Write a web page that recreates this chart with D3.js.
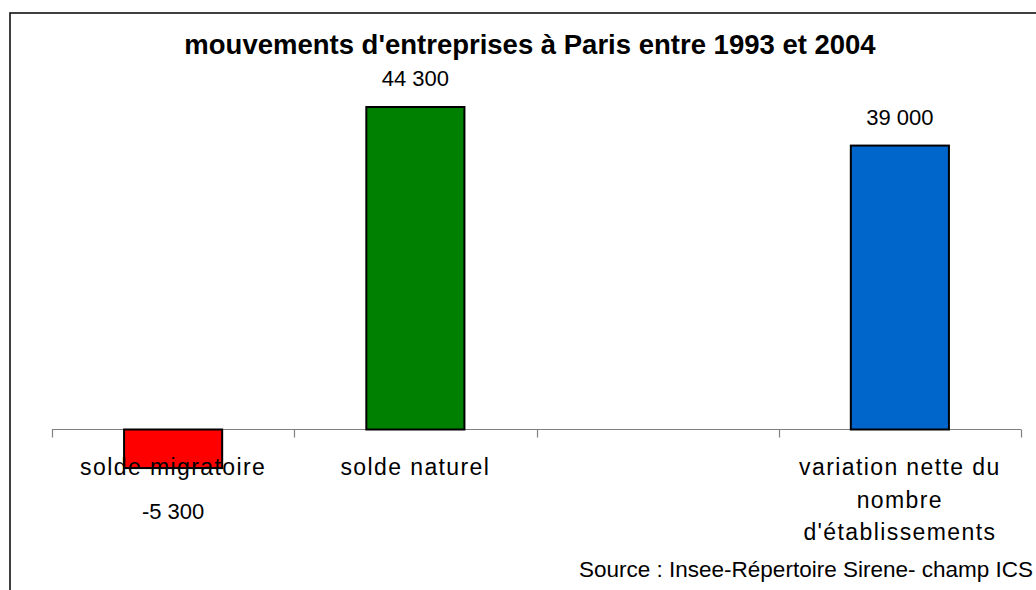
<!DOCTYPE html>
<html><head><meta charset="utf-8">
<script src="https://cdn.jsdelivr.net/npm/d3@7"></script>
<style>html,body{margin:0;padding:0;background:#fff;}svg{display:block;}</style>
</head><body>
<script>
const titleText = "mouvements d'entreprises à Paris entre 1993 et 2004";
const categories = ["solde migratoire", "solde naturel", "", "variation nette du nombre d'établissements"];
const categoryLines = [["solde migratoire"], ["solde naturel"], [], ["variation nette du", "nombre", "d'établissements"]];
const values = [-5300, 44300, null, 39000];
const valueLabels = ["-5 300", "44 300", "", "39 000"];
const barColors = ["#ff0000", "#008000", "none", "#0066cc"];
const sourceText = "Source : Insee-Répertoire Sirene- champ ICS";

const W = 1036, H = 590;
const svg = d3.select("body").append("svg").attr("width", W).attr("height", H);
const font = "'Liberation Sans', Arial, sans-serif";

// frame
svg.append("rect").attr("x", 10).attr("y", 13).attr("width", 1100).attr("height", 1000)
  .attr("fill", "#fff").attr("stroke", "#111").attr("stroke-width", 1.6);

const x = d3.scaleBand().domain(categories.map((c, i) => i)).range([52, 1021]).padding(0);
const y = d3.scaleLinear().domain([0, 44300]).range([429.5, 107]);
const barW = x.bandwidth() * 0.405;

const data = categories.map((c, i) => ({i, c, v: values[i], label: valueLabels[i], color: barColors[i], lines: categoryLines[i]}));

// axis line + ticks at band boundaries
const bounds = data.map(d => x(d.i)).concat([x.range()[1]]);
const axis = svg.append("g");
axis.append("line").attr("x1", x.range()[0]).attr("x2", x.range()[1])
  .attr("y1", y(0)).attr("y2", y(0)).attr("stroke", "#808080").attr("stroke-width", 1.2);
axis.selectAll("line.tick").data(bounds).join("line").attr("class", "tick")
  .attr("x1", d => Math.round(d) + 0.5).attr("x2", d => Math.round(d) + 0.5)
  .attr("y1", y(0)).attr("y2", y(0) + 8).attr("stroke", "#808080").attr("stroke-width", 1.2);

// bars
const bd = data.filter(d => d.v !== null);
svg.selectAll("rect.bar").data(bd).join("rect").attr("class", "bar")
  .attr("x", d => x(d.i) + x.bandwidth() / 2 - barW / 2)
  .attr("width", barW)
  .attr("y", d => Math.min(y(d.v), y(0)))
  .attr("height", d => Math.abs(y(d.v) - y(0)))
  .attr("fill", d => d.color).attr("stroke", "#000").attr("stroke-width", 2);

// value labels
svg.selectAll("text.val").data(bd).join("text").attr("class", "val")
  .attr("x", d => x(d.i) + x.bandwidth() / 2)
  .attr("y", d => d.v >= 0 ? y(d.v) - 21 : y(d.v) + 51)
  .attr("text-anchor", "middle").attr("font-family", font).attr("font-size", 22)
  .attr("fill", "#000").text(d => d.label);

// category labels
const cat = svg.selectAll("g.cat").data(data).join("g").attr("class", "cat");
cat.selectAll("text").data(d => d.lines.map((l, k) => ({l, k, cx: x(d.i) + x.bandwidth() / 2})))
  .join("text")
  .attr("x", t => t.cx).attr("y", t => 475 + t.k * 32.5)
  .attr("text-anchor", "middle").attr("font-family", font).attr("font-size", 23)
  .attr("letter-spacing", 1.4)
  .attr("fill", "#000").text(t => t.l);

// title
svg.append("text").attr("x", 530).attr("y", 54).attr("text-anchor", "middle")
  .attr("font-family", font).attr("font-size", 27.5).attr("font-weight", "bold")
  .attr("fill", "#000").text(titleText);

// source
svg.append("text").attr("x", 579).attr("y", 577).attr("text-anchor", "start")
  .attr("font-family", font).attr("font-size", 21.5)
  .attr("textLength", 454).attr("lengthAdjust", "spacingAndGlyphs")
  .attr("fill", "#000").text(sourceText);
</script>
</body></html>
